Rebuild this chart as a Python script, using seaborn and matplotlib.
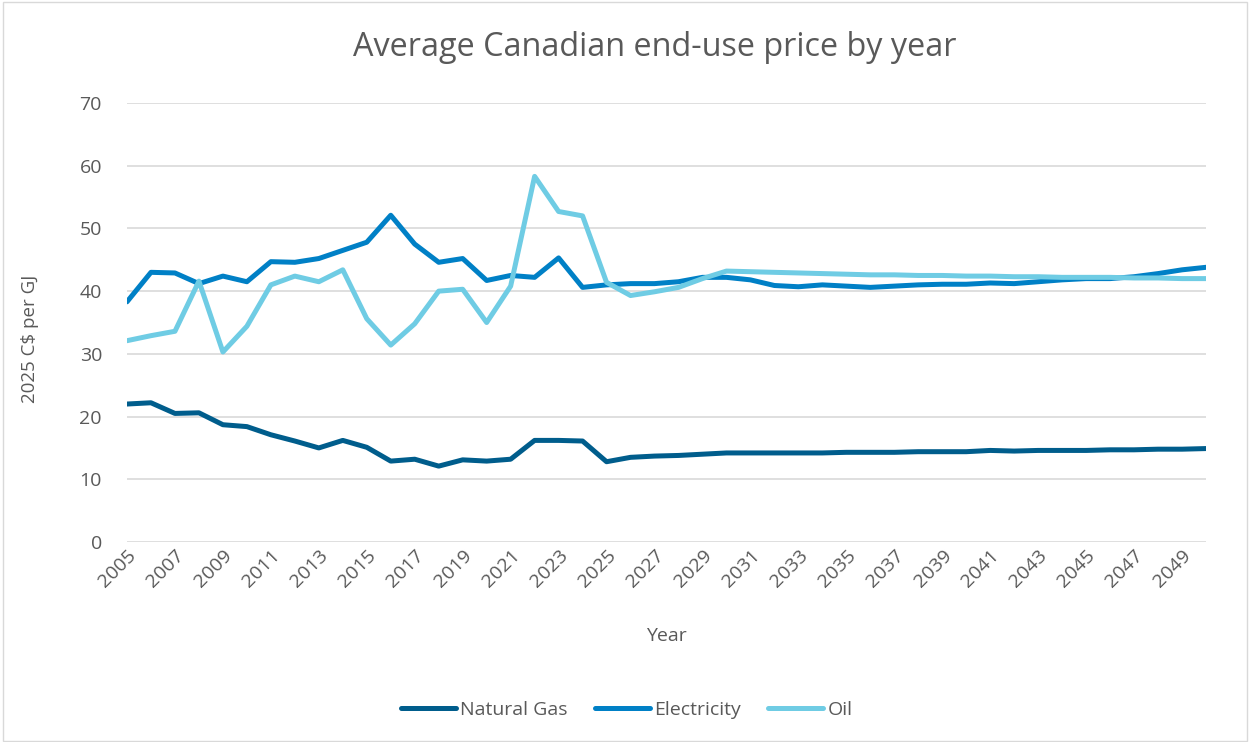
import pandas as pd
import numpy as np
import matplotlib.pyplot as plt
import seaborn as sns
from matplotlib.patches import Rectangle

# ---------------------------
# DATA
# ---------------------------
years = list(range(2005, 2051))

natural_gas = [22.0, 22.2, 20.5, 20.6, 18.7, 18.4, 17.1, 16.1, 15.0, 16.2,
               15.1, 12.9, 13.2, 12.1, 13.1, 12.9, 13.2, 16.2, 16.2, 16.1,
               12.8, 13.5, 13.7, 13.8, 14.0, 14.2, 14.2, 14.2, 14.2, 14.2,
               14.3, 14.3, 14.3, 14.4, 14.4, 14.4, 14.6, 14.5, 14.6, 14.6,
               14.6, 14.7, 14.7, 14.8, 14.8, 14.9]

electricity = [38.3, 43.0, 42.9, 41.2, 42.4, 41.5, 44.7, 44.6, 45.2, 46.5,
               47.8, 52.1, 47.5, 44.6, 45.2, 41.7, 42.5, 42.2, 45.3, 40.6,
               41.0, 41.2, 41.2, 41.5, 42.2, 42.2, 41.8, 40.9, 40.7, 41.0,
               40.8, 40.6, 40.8, 41.0, 41.1, 41.1, 41.3, 41.2, 41.5, 41.8,
               42.0, 42.0, 42.3, 42.8, 43.4, 43.8]

oil = [32.1, 32.9, 33.6, 41.6, 30.3, 34.4, 41.0, 42.4, 41.5, 43.4,
       35.6, 31.4, 34.8, 40.0, 40.3, 35.0, 40.8, 58.3, 52.7, 52.0,
       41.4, 39.3, 39.9, 40.6, 42.0, 43.2, 43.1, 43.0, 42.9, 42.8,
       42.7, 42.6, 42.6, 42.5, 42.5, 42.4, 42.4, 42.3, 42.3, 42.2,
       42.2, 42.2, 42.1, 42.1, 42.0, 42.0]

series_names = ["Natural Gas", "Electricity", "Oil"]
colors = ["#005D8C", "#0080C6", "#6FCCE4"]

df = pd.DataFrame({"Year": years, "Natural Gas": natural_gas,
                   "Electricity": electricity, "Oil": oil})
long_df = df.melt(id_vars="Year", var_name="Fuel", value_name="Price")

# ---------------------------
# PLOT
# ---------------------------
sns.set_theme(style="white")
plt.rcParams['font.family'] = ['Open Sans', 'DejaVu Sans']
text_gray = "#595959"

fig = plt.figure(figsize=(12.51, 7.42), dpi=100)
ax = fig.add_axes([127 / 1251, 200 / 742, (1206 - 127) / 1251, (639 - 200) / 742])

sns.lineplot(data=long_df, x="Year", y="Price", hue="Fuel",
             hue_order=series_names, palette=colors, linewidth=3.6,
             ax=ax, legend=True)

ax.set_xlim(2005, 2050)
ax.set_ylim(0, 70)
ax.set_yticks(range(0, 71, 10))
ax.set_xticks(years[::2])
ax.set_xticklabels([str(y) for y in years[::2]], rotation=45, ha="right",
                   rotation_mode="anchor", fontsize=14, color=text_gray)
ax.tick_params(axis="y", labelsize=14, labelcolor=text_gray, length=0, pad=18)
ax.tick_params(axis="x", length=0, pad=3)
ax.grid(axis="y", color="#D9D9D9", linewidth=1.2)
ax.set_axisbelow(True)
for s in ax.spines.values():
    s.set_visible(False)

ax.set_xlabel("Year", fontsize=14, color=text_gray, labelpad=26)
ax.set_ylabel("2025 C$ per GJ", fontsize=13.5, color=text_gray)
ax.yaxis.set_label_coords(-0.0815, 0.462)
fig.text(0.523, 1 - 48 / 742, "Average Canadian end-use price by year",
         ha="center", va="center", fontsize=23.3, color=text_gray)

handles, labels = ax.get_legend_handles_labels()
ax.legend(handles, labels, loc="center",
          bbox_to_anchor=(0.463, -(710 - 542) / (542 - 103)),
          ncol=3, frameon=False, fontsize=14, labelcolor=text_gray,
          handlelength=2.85, handletextpad=0.2, columnspacing=1.4)

fig.patches.append(Rectangle((0.002, 0.002), 0.995, 0.995, transform=fig.transFigure,
                             fill=False, edgecolor="#D9D9D9", linewidth=1))

plt.savefig("out.png", dpi=100)
